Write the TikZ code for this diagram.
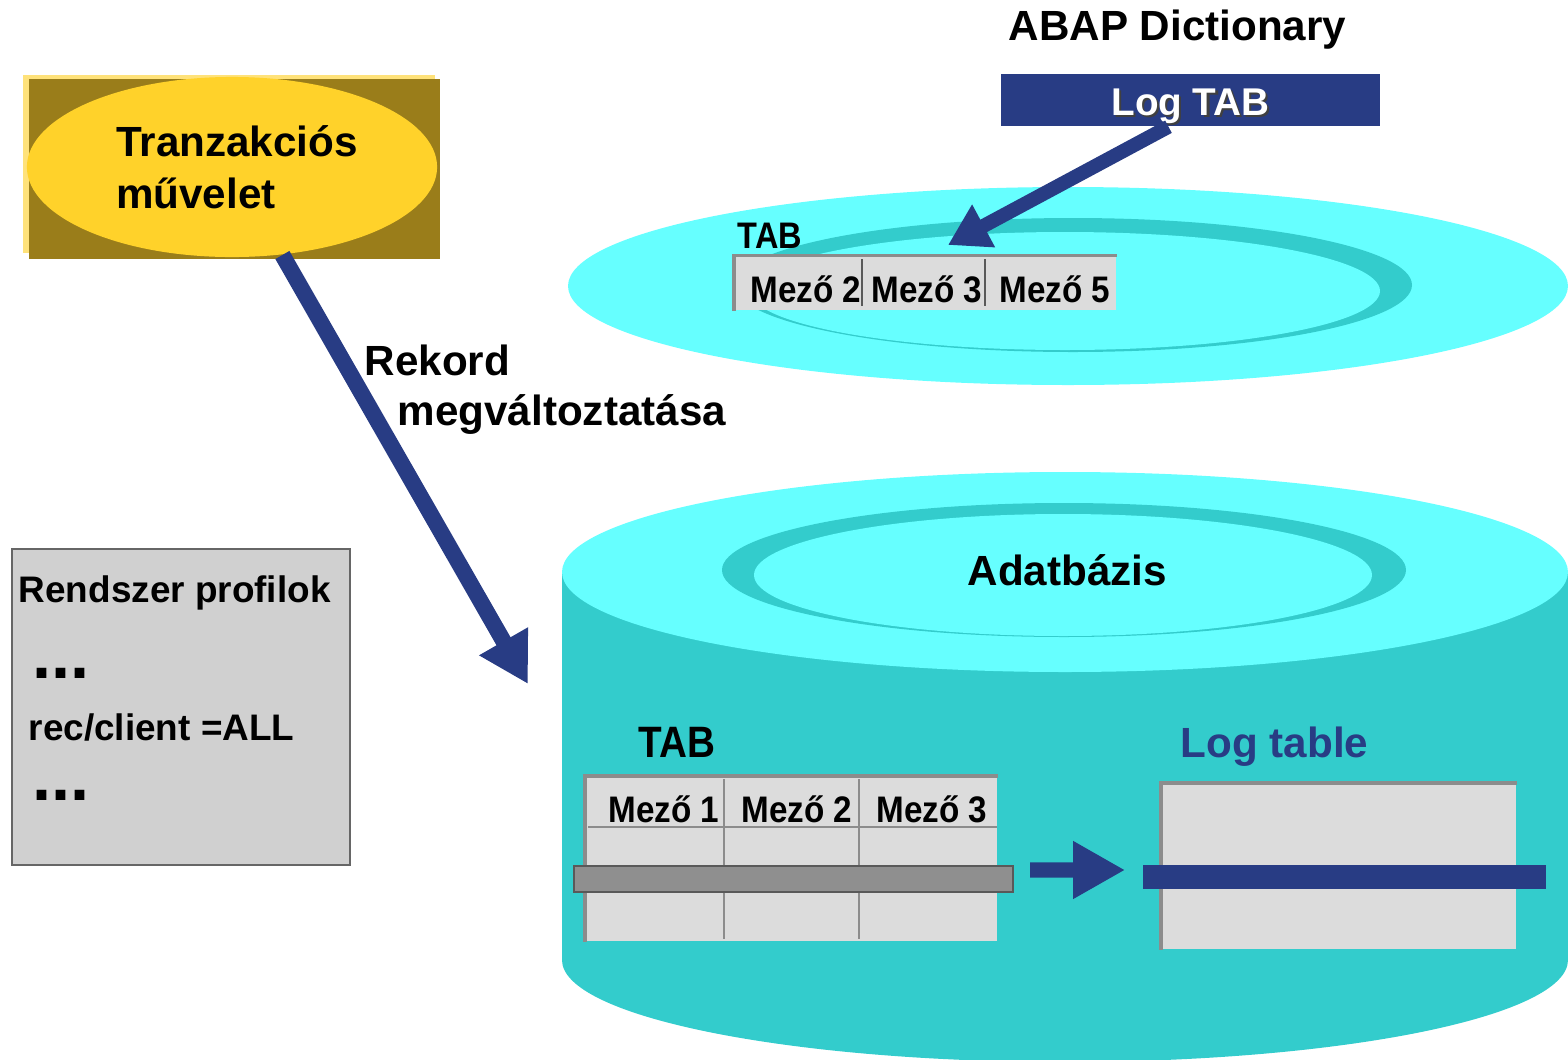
\documentclass[tikz,border=0pt]{standalone}
\usepackage{fontspec}
\setmainfont{Liberation Sans}
\usetikzlibrary{arrows.meta,shapes.geometric}

\definecolor{paleyellow}{HTML}{FFE27A}
\definecolor{olivebrown}{HTML}{9A7D1A}
\definecolor{sunyellow}{HTML}{FFD22A}
\definecolor{sapblue}{HTML}{283C84}
\definecolor{disktop}{HTML}{66FFFF}
\definecolor{diskside}{HTML}{33CCCC}
\definecolor{cellgray}{HTML}{DCDCDC}
\definecolor{rulegray}{HTML}{8C8C8C}
\definecolor{bargray}{HTML}{8F8F8F}
\definecolor{profgray}{HTML}{D0D0D0}

\begin{document}
\begin{tikzpicture}[x=0.01cm, y=-0.01cm,
    lbl/.style={font=\bfseries\fontsize{12}{14}\selectfont, inner sep=0pt, anchor=base west},
    cell/.style={font=\bfseries\fontsize{10.5}{12}\selectfont, inner sep=0pt, anchor=base west, xscale=0.9},
    smalllbl/.style={lbl, font=\bfseries\fontsize{10.5}{12}\selectfont},
    dotslbl/.style={lbl, font=\bfseries\fontsize{19.5}{20}\selectfont},
    tbl/.style={rectangle, fill=cellgray, inner sep=0pt},
    fatarrow/.style={sapblue, line width=4.6pt, -{Triangle[length=14pt,width=15pt]}}]
  \useasboundingbox (0,0) rectangle (1568,1060);
  \clip (0,0) rectangle (1568,1060);

  % transaction
  \fill[paleyellow] (23,75) rectangle (435,253);
  \fill[olivebrown] (29,79) rectangle (440,259);
  \node[ellipse, fill=sunyellow, minimum width=4.1cm, minimum height=1.8cm, inner sep=0pt,
    align=left, font=\bfseries\fontsize{12}{14.8}\selectfont] (tranz) at (232,167)
    {\hspace*{0.1cm}Tranzakciós\\\hspace*{0.1cm}művelet};

  % dictionary disk
  \fill[disktop] (1068,286) ellipse [x radius=500, y radius=99];
  \fill[diskside] (1073,285) ellipse [x radius=339, y radius=67];
  \fill[disktop] (1065,291) ellipse [x radius=315, y radius=59];

  \node[smalllbl, xscale=0.88] (uptab) at (737,248) {TAB};
  \node[tbl, minimum width=3.81cm, minimum height=0.54cm] (uptbl) at (925.5,283) {};
  \draw[rulegray, line width=1pt] (uptbl.south west) -- (uptbl.north west) -- (uptbl.north east);
  \node[cell] (upf2) at (750,302) {Mező 2};
  \node[cell] (upf3) at (871,302) {Mező 3};
  \node[cell] (upf5) at (999,302) {Mező 5};
  \draw[gray!70!black, line width=0.8pt] (862,259) -- (862,306) (985,259) -- (985,306);

  \node[lbl] (abap) at (1008,40) {ABAP Dictionary};
  \node[rectangle, fill=sapblue, minimum width=3.79cm, minimum height=0.52cm, inner sep=0pt,
    text height=0.4cm, text depth=0.1cm, font=\bfseries\fontsize{11}{13}\selectfont] (logtab) at (1190.5,100)
    {\rlap{\hspace{0.6pt}\raisebox{-0.6pt}{\color{black!75}Log TAB}}\color{white}Log TAB};
  \coordinate (dictip) at (948,245);
  \draw[sapblue, line width=4pt, -{Triangle[length=11.5pt,width=13pt]}] ([xshift=-0.22cm]logtab.south) -- (dictip);

  % record change
  \coordinate (rectip) at (528,684);
  \draw[fatarrow] (tranz) -- (rectip);
  \node[lbl] (rek1) at (364,375) {Rekord};
  \node[lbl] (rek2) at (397,425) {megváltoztatása};

  % database cylinder
  \fill[diskside] (562,572) rectangle (1568,960);
  \fill[diskside] (1065,960) ellipse [x radius=503, y radius=102];
  \fill[disktop] (1065,572) ellipse [x radius=503, y radius=100];
  \fill[diskside] (1064,570) ellipse [x radius=342, y radius=67];
  \fill[disktop] (1063,575) ellipse [x radius=309, y radius=61];
  \node[lbl] (db) at (967,585) {Adatbázis};

  \node[lbl, xscale=0.88, font=\bfseries\fontsize{12.5}{14}\selectfont] (tab) at (638,757) {TAB};
  \node[tbl, minimum width=4.11cm, minimum height=1.64cm] (tabtbl) at (791.5,859) {};
  \draw[rulegray, line width=1pt] (tabtbl.south west) -- (tabtbl.north west) -- (tabtbl.north east);
  \draw[rulegray, line width=0.6pt] (588,827) -- (997,827);
  \draw[rulegray, line width=0.6pt] (724,779) -- (724,939) (859,779) -- (859,939);
  \node[cell] (f1) at (608,822) {Mező 1};
  \node[cell] (f2) at (741,822) {Mező 2};
  \node[cell] (f3) at (876,822) {Mező 3};
  \node[rectangle, fill=bargray, draw=gray!70!black, line width=0.6pt, minimum width=4.39cm,
    minimum height=0.26cm, inner sep=0pt] (tabbar) at (793.5,879) {};

  \node[lbl, text=sapblue] (logname) at (1180,757) {Log table};
  \node[tbl, minimum width=3.54cm, minimum height=1.65cm] (logtbl) at (1339,866.5) {};
  \draw[rulegray, line width=1pt] (logtbl.south west) -- (logtbl.north west) -- (logtbl.north east);
  \node[rectangle, fill=sapblue, minimum width=4.03cm, minimum height=0.24cm, inner sep=0pt] (logbar) at (1344.5,877) {};
  \draw[sapblue, line width=4.3pt, -{Triangle[length=14.8pt,width=15.4pt]}]
    ([xshift=0.16cm,yshift=0.09cm]tabbar.east) -- ([xshift=-0.17cm,yshift=0.07cm]logbar.west);

  % system profiles
  \node[rectangle, fill=profgray, draw=gray!80!black, line width=0.6pt, minimum width=3.38cm,
    minimum height=3.16cm, inner sep=0pt] (prof) at (181,707) {};
  \node[smalllbl] (profname) at (18,602) {Rendszer profilok};
  \node[dotslbl] (dots1) at (32,678) {...};
  \node[smalllbl] (recclient) at (28,740) {rec/client =ALL};
  \node[dotslbl] (dots2) at (32,800) {...};
\end{tikzpicture}
\end{document}
